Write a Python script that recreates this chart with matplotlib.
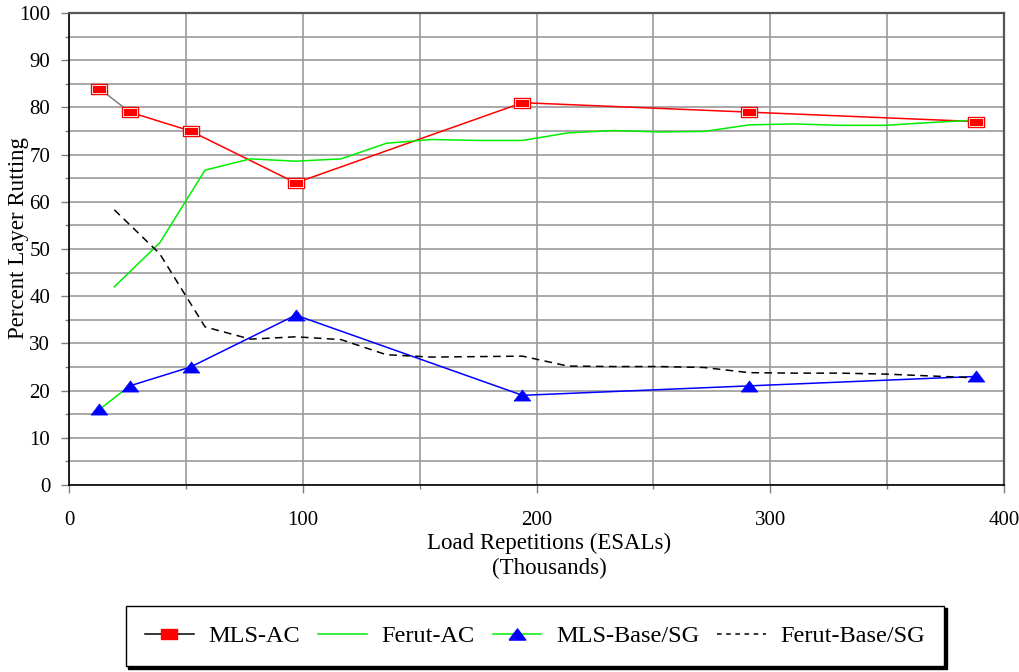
import matplotlib
matplotlib.use("Agg")
import matplotlib.pyplot as plt
from matplotlib.lines import Line2D
from matplotlib.ticker import MultipleLocator

plt.rcParams['font.family'] = ['Liberation Serif', 'DejaVu Serif']

# MLS data (thousands of ESALs)
mls_x = [13, 26, 52, 97, 194, 291, 388]
mls_ac = [84, 79, 75, 64, 81, 79, 77]
mls_base = [16, 21, 25, 36, 19, 21, 23]

# Ferut data
ferut_x = [19.4, 38.8, 58.2, 77.6, 97.0, 116.4, 135.8, 155.2, 174.6, 194.0,
           213.4, 232.8, 252.2, 271.6, 291.0, 310.4, 329.8, 349.2, 368.6, 388.0]
ferut_ac = [42.0, 51.3, 66.7, 69.1, 68.6, 69.1, 72.4, 73.2, 73.0, 73.0,
            74.6, 75.1, 74.8, 74.9, 76.3, 76.5, 76.2, 76.2, 76.8, 77.3]
ferut_base = [58.3, 49.0, 33.5, 30.9, 31.4, 30.8, 27.6, 27.1, 27.2, 27.3,
              25.2, 25.1, 25.1, 24.9, 23.8, 23.7, 23.7, 23.5, 23.1, 22.7]

labels = ["MLS-AC", "Ferut-AC", "MLS-Base/SG", "Ferut-Base/SG"]

sq = [(-1.6, -1), (1.6, -1), (1.6, 1), (-1.6, 1), (-1.6, -1)]
tri = [(-1.5, -1), (1.5, -1), (0, 1), (-1.5, -1)]

fig = plt.figure(figsize=(10.19, 6.72), dpi=100)
ax = fig.add_axes([69 / 1019, 1 - 485 / 672, (1004 - 69) / 1019, (485 - 13) / 672])

# lines
ax.plot(mls_x[:2], mls_ac[:2], color="#808080", lw=1.1, zorder=3)
ax.plot(mls_x[1:], mls_ac[1:], color="red", lw=1.1, zorder=3)
ax.plot(ferut_x, ferut_ac, color="#00ee00", lw=1.1, zorder=3)
ax.plot(mls_x[:2], mls_base[:2], color="#00ee00", lw=1.1, zorder=3)
ax.plot(mls_x[1:], mls_base[1:], color="blue", lw=1.1, zorder=3)
ax.plot(ferut_x, ferut_base, color="black", lw=1.1, dashes=(5, 3.5), zorder=3)

# markers
ax.plot(mls_x, mls_ac, ls="none", marker=sq, ms=11.5, mfc="red", mec="red", mew=1, zorder=4)
ax.plot(mls_x, mls_ac, ls="none", marker=sq, ms=9.8, mfc="none", mec="white", mew=0.6, zorder=5)
ax.plot(mls_x, mls_base, ls="none", marker=tri, ms=12, mfc="blue", mec="blue", mew=0.5, zorder=4)

ax.set_xlim(0, 400)
ax.set_ylim(0, 100)
ax.xaxis.set_major_locator(MultipleLocator(100))
ax.xaxis.set_minor_locator(MultipleLocator(50))
ax.yaxis.set_major_locator(MultipleLocator(10))
ax.yaxis.set_minor_locator(MultipleLocator(5))
ax.grid(which="both", color="#9a9a9a", lw=1.2, zorder=1)
ax.set_axisbelow(True)
ax.tick_params(which="major", length=5.5, width=1, color="#808080", labelsize=15)
ax.tick_params(which="minor", length=3, width=1, color="#808080")
ax.tick_params(axis="y", pad=8)
ax.tick_params(axis="x", pad=13)

for s in ["left", "bottom"]:
    ax.spines[s].set_color("black")
    ax.spines[s].set_linewidth(1.2)
for s in ["top", "right"]:
    ax.spines[s].set_color("#555555")
    ax.spines[s].set_linewidth(1.6)

fig.text(549 / 1019, 1 - 556 / 672, "Load Repetitions (ESALs)\n(Thousands)",
         ha="center", va="center", fontsize=16.5, linespacing=1.25)
fig.text(19 / 1019, 1 - 238 / 672, "Percent Layer Rutting", rotation=90,
         ha="center", va="center", fontsize=16.5)

handles = [
    Line2D([], [], color="black", lw=1.1, marker=sq, ms=11.5, mfc="red", mec="red"),
    Line2D([], [], color="#00ee00", lw=1.1),
    Line2D([], [], color="#00ee00", lw=1.1, marker=tri, ms=12, mfc="blue", mec="blue"),
    Line2D([], [], color="black", lw=1.1, dashes=(3, 3)),
]
fig.legend(handles, labels, loc="center", bbox_to_anchor=(535 / 1019, 1 - 636 / 672),
           ncol=4, fontsize=17.5, frameon=True, fancybox=False, edgecolor="black",
           handlelength=2.0, handletextpad=0.6, columnspacing=0.75, borderpad=0.8,
           shadow={"facecolor": "black", "edgecolor": "black", "alpha": 1})

fig.savefig("out.png", dpi=100)
